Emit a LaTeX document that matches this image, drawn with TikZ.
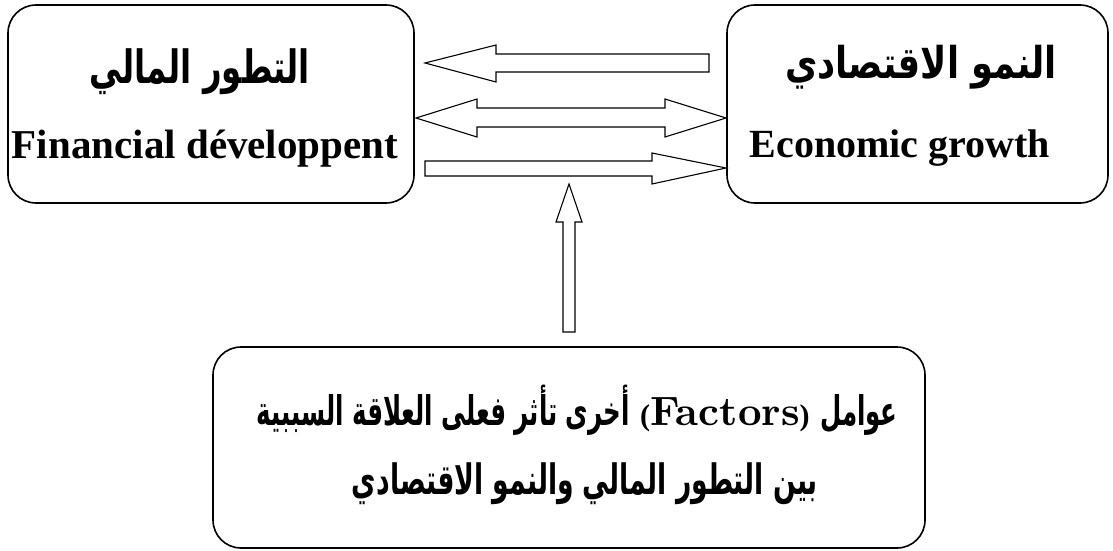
\documentclass[tikz,border=0pt]{standalone}
\usepackage{fontspec}
\usepackage{graphicx}
\TeXXeTstate=1
\newfontfamily\arabicfont[Script=Arabic]{DejaVu Sans}
\newfontfamily\libserif{Liberation Serif}
\font\lmbxfont="[lmroman10-bold.otf]" at 41pt
\newcommand\arpiece[1]{\scalebox{0.72}[1.2]{\arabicfont\bfseries\fontsize{34}{40}\selectfont\beginR #1\endR}}
\begin{document}
\begin{tikzpicture}[x=1pt,y=-1pt,
  box/.style={draw, line width=1.6pt, rounded corners=28pt, inner sep=0pt},
  blockarrow/.style={draw, line width=1.1pt, fill=white, line join=miter},
  lbl/.style={inner sep=0pt, anchor=base},
  arlbl/.style={inner sep=0pt, anchor=center}]
\useasboundingbox (0,0) rectangle (1113,551);
\fill[white] (0,0) rectangle (1113,551);
% boxes
\node[box, minimum width=406pt, minimum height=198pt] (fin) at (211,104) {};
\node[box, minimum width=381pt, minimum height=198pt] (eco) at (917.5,104) {};
\node[box, minimum width=712pt, minimum height=201pt] (fac) at (569,447.5) {};
% labels
\node[arlbl] (finar) at (200,72) {\resizebox*{220pt}{46pt}{\arabicfont\bfseries\beginR التطور المالي\endR}};
\node[lbl] (finen) at (205,158) {\libserif\bfseries\fontsize{41}{48}\selectfont Financial développent};
\node[arlbl] (ecoar) at (921,67) {\resizebox*{272pt}{44pt}{\arabicfont\bfseries\beginR النمو الاقتصادي\endR}};
\node[lbl] (ecoen) at (900,157) {\libserif\bfseries\fontsize{40}{48}\selectfont Economic growth};
\node[lbl] (facl1) at (577,425) {\arabicfont\bfseries\fontsize{30}{36}\selectfont\arpiece{أخرى تأثر فعلى العلاقة السببية} {\libserif\bfseries\fontsize{30}{36}\selectfont(}{\lmbxfont Factors}{\libserif\bfseries\fontsize{30}{36}\selectfont)} \arpiece{عوامل}};
\node[arlbl] (facl2) at (585,484) {\resizebox*{466pt}{42pt}{\arabicfont\bfseries\beginR بين التطور المالي والنمو الاقتصادي\endR}};
% block arrows
\draw[blockarrow] (425,63) -- (496,45) -- (496,54) -- (709,54) -- (709,72) -- (496,72) -- (496,82) -- cycle;
\draw[blockarrow] (416,118) -- (477,99) -- (477,108) -- (665,108) -- (665,99) -- (726,118) -- (665,137) -- (665,127) -- (477,127) -- (477,137) -- cycle;
\draw[blockarrow] (425,161) -- (652,161) -- (652,153) -- (726,168) -- (652,184) -- (652,176) -- (425,176) -- cycle;
\draw[blockarrow] (569,184) -- (582,222) -- (575,222) -- (575,332) -- (563,332) -- (563,222) -- (556,222) -- cycle;
\end{tikzpicture}
\end{document}
